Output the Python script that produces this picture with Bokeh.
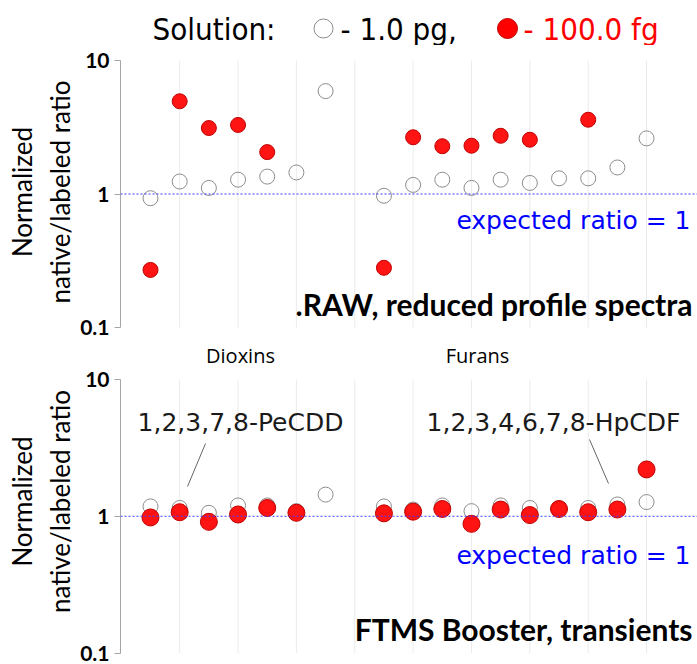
import numpy as np
from bokeh.plotting import figure
from bokeh.layouts import column
from bokeh.models import FixedTicker, Span, Range1d
from bokeh.core.properties import value
from bokeh.embed import file_html
from bokeh.resources import INLINE

nan = float("nan")

# ---- data -------------------------------------------------------------
groups = ["Dioxins", "Furans"]
tick_values = [0.1, 1, 10]
tick_labels = ["0.1", "1", "10"]

# .RAW, reduced profile spectra
raw_1pg_dioxins = [0.93, 1.24, 1.11, 1.28, 1.35, 1.45, 5.9]
raw_100fg_dioxins = [0.27, 4.95, 3.12, 3.29, 2.06, nan, nan]
raw_1pg_furans = [0.97, 1.17, 1.28, 1.11, 1.28, 1.21, 1.31, 1.31, 1.58, 2.61]
raw_100fg_furans = [0.28, 2.66, 2.28, 2.30, 2.73, 2.55, nan, 3.6, nan, nan]

# FTMS Booster, transients
ftms_1pg_dioxins = [1.18, 1.15, 1.06, 1.20, 1.20, 1.09, 1.44]
ftms_100fg_dioxins = [0.98, 1.07, 0.91, 1.03, 1.15, 1.06, nan]
ftms_1pg_furans = [1.18, 1.12, 1.20, 1.09, 1.20, 1.15, 1.13, 1.15, 1.22, 1.27]
ftms_100fg_furans = [1.05, 1.08, 1.13, 0.88, 1.12, 1.02, 1.13, 1.07, 1.12, 2.2]

# ---- layout constants --------------------------------------------------
W = 697
LEFT = 120            # frame left edge (px)
X0_PX = 150.0         # px of first compound
STEP_PX = 29.18       # px between compounds


def px_to_x(px):
    return (px - X0_PX) / STEP_PX


def make_y(y10, y01):
    """px (relative to figure top) -> data value on the log axis"""
    slope = 2.0 / (y01 - y10)

    def f(px):
        return 10 ** (1 - (px - y10) * slope)
    return f


n_d = len(raw_1pg_dioxins)
n_f = len(raw_1pg_furans)
pos_d = np.arange(n_d)
pos_f = n_d + 1 + np.arange(n_f)
grid_x = np.arange(1, pos_f[-1] + 1, 2)

OPEN_LINE = "#8c8c8c"
RED = "#ff0000"
RED_LINE = "#c00000"
LABEL_FONT = value("Lato")
NOTE_FONT = value("DejaVu Sans")


def panel(height, y10, y01, d1, d100, f1, f100, title, red_size, open_size,
          exp_px, title_px):
    yp = make_y(y10, y01)
    p = figure(width=W, height=height, y_axis_type="log",
               x_range=Range1d(px_to_x(LEFT), px_to_x(W)),
               y_range=Range1d(yp(height), yp(0)),
               output_backend="svg", toolbar_location=None,
               x_axis_location=None, min_border_left=LEFT, min_border_right=0,
               min_border_top=0, min_border_bottom=0)
    p.outline_line_color = None
    p.grid.visible = False
    p.background_fill_color = "white"

    ax = p.yaxis[0]
    ax.bounds = (0.1, 10)
    ax.ticker = FixedTicker(ticks=tick_values, minor_ticks=[])
    ax.major_label_overrides = {v: s for v, s in zip(tick_values, tick_labels)}
    ax.axis_line_color = "#a6a6a6"
    ax.major_tick_line_color = "#a6a6a6"
    ax.major_tick_in = 0
    ax.major_tick_out = 6
    ax.minor_tick_line_color = None
    ax.major_label_text_font = "Lato"
    ax.major_label_text_font_style = "bold"
    ax.major_label_text_font_size = "21px"
    ax.major_label_text_color = "black"
    ax.major_label_standoff = 5
    ax.axis_label = "Normalized\nnative/labeled ratio"
    ax.axis_label_text_font = "Lato"
    ax.axis_label_text_font_style = "normal"
    ax.axis_label_text_font_size = "26px"
    ax.axis_label_text_color = "black"
    ax.axis_label_standoff = 1

    # faint vertical guides
    p.segment(x0=grid_x, x1=grid_x, y0=0.1, y1=10, line_color="#ebebeb", line_width=1)

    # expected ratio line
    p.add_layout(Span(location=1, dimension="width", line_color="#3c3cff",
                      line_width=1, line_dash="2 2"))

    p.scatter(np.concatenate([pos_d, pos_f]), np.array(d1 + f1, dtype=float),
              size=open_size, fill_color=None, line_color=OPEN_LINE, line_width=1)
    p.scatter(np.concatenate([pos_d, pos_f]), np.array(d100 + f100, dtype=float),
              size=red_size, fill_color=RED, fill_alpha=0.92,
              line_color=RED_LINE, line_width=1)

    p.text(x=[px_to_x(690)], y=[yp(exp_px)], text=["expected ratio = 1"],
           text_font=NOTE_FONT, text_font_size="25px", text_color="#0000ff",
           text_align="right", text_baseline="middle")
    p.text(x=[px_to_x(692)], y=[yp(title_px)], text=[title],
           text_font=LABEL_FONT, text_font_style="bold", text_font_size="30px",
           text_color="black", text_align="right", text_baseline="middle")
    return p, yp


# legend strip (data units equal pixels)
leg = figure(width=W, height=45, x_range=Range1d(LEFT, W), y_range=Range1d(45, 0),
             output_backend="svg", toolbar_location=None,
             x_axis_location=None, y_axis_location=None,
             min_border=0, min_border_left=LEFT)
leg.outline_line_color = None
leg.grid.visible = False
LEG_FONT = value("DejaVu Sans Condensed")
leg.text(x=[152], y=[28], text=["Solution:"], text_font=LEG_FONT,
         text_font_size="31px", text_color="black", text_baseline="middle")
leg.scatter(x=[323], y=[28], size=19, fill_color=None, line_color=OPEN_LINE)
leg.text(x=[340], y=[28], text=["- 1.0 pg,"], text_font=LEG_FONT,
         text_font_size="31px", text_color="black", text_baseline="middle")
leg.scatter(x=[507], y=[28], size=20, fill_color=RED, line_color=RED_LINE)
leg.text(x=[523], y=[28], text=["- 100.0 fg"], text_font=LEG_FONT,
         text_font_size="31px", text_color="#ff0000", text_baseline="middle")

top, yt = panel(293, 15, 282, raw_1pg_dioxins, raw_100fg_dioxins,
                raw_1pg_furans, raw_100fg_furans,
                ".RAW, reduced profile spectra", 15, 15, 175, 258)

bot, yb = panel(326, 41, 314.5, ftms_1pg_dioxins, ftms_100fg_dioxins,
                ftms_1pg_furans, ftms_100fg_furans,
                "FTMS Booster, transients", 17, 15, 217, 290)

# group names
bot.text(x=[px_to_x(240), px_to_x(477)], y=[yb(17), yb(17)], text=groups,
         text_font=value("Open Sans"), text_font_size="20px", text_color="black",
         text_align="center", text_baseline="middle")

# compound call-outs
bot.segment(x0=[px_to_x(205), px_to_x(589)], y0=[yb(105), yb(101)],
            x1=[px_to_x(187), px_to_x(608)], y1=[yb(148), yb(145)],
            line_color="#666666", line_width=1)
bot.text(x=[px_to_x(240), px_to_x(553)], y=[yb(84), yb(84)],
         text=["1,2,3,7,8-PeCDD", "1,2,3,4,6,7,8-HpCDF"],
         text_font=NOTE_FONT, text_font_size="25px", text_color="#1a1a1a",
         text_align="center", text_baseline="middle")

layout = column(leg, top, bot, spacing=0)
open("out.html", "w").write(file_html(layout, INLINE))
